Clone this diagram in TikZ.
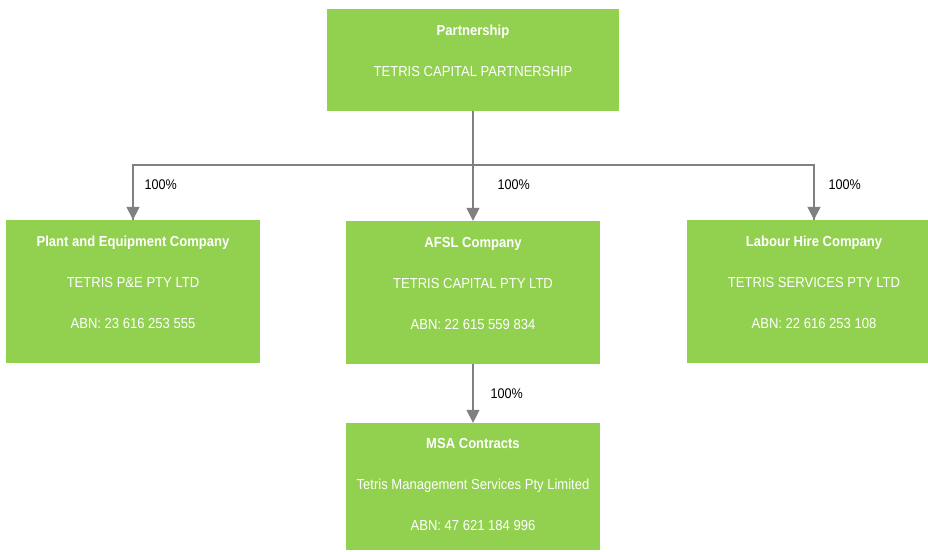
\documentclass[tikz,border=0pt]{standalone}
\usepackage{fontspec}
\setmainfont{Liberation Sans}[FakeStretch=0.9]
\usetikzlibrary{arrows.meta}

\definecolor{boxgreen}{HTML}{92D050}
\definecolor{linegray}{HTML}{808080}

\tikzset{
  entity/.style={fill=boxgreen, draw=none, minimum width=254pt, minimum height=143pt, inner sep=0pt},
  title/.style={text=white, font=\fontsize{14.5}{16}\selectfont\bfseries, anchor=base},
  info/.style={text=white, font=\fontsize{14.5}{16}\selectfont, anchor=base},
  share/.style={font=\fontsize{14}{16}\selectfont, anchor=base west},
  own/.style={draw=linegray, line width=1.6pt, -{Triangle[length=13pt, width=13pt]}},
}

\begin{document}
\begin{tikzpicture}[x=1pt, y=-1pt]
        \clip (0,0) rectangle (928,551);
        \fill[white] (0,0) rectangle (928,551);
        % boxes
        \node[entity, minimum width=292pt, minimum height=102pt] (part) at (473,60) {};
        \node[entity] (plant) at (133,291.5) {};
        \node[entity] (afsl) at (473,292.5) {};
        \node[entity] (labour) at (814,291.5) {};
        \node[entity, minimum height=127pt] (msa) at (473,486.5) {};
        % texts
        \node[title] (part-t) at (473,35.2) {Partnership};
        \node[info] (part-n) at (473,76.2) {TETRIS CAPITAL PARTNERSHIP};
        \node[title] (plant-t) at (133,246.2) {Plant and Equipment Company};
        \node[info] (plant-n) at (133,287.2) {TETRIS P\&E PTY LTD};
        \node[info] (plant-a) at (133,328.2) {ABN: 23 616 253 555};
        \node[title] (afsl-t) at (473,247.2) {AFSL Company};
        \node[info] (afsl-n) at (473,288.2) {TETRIS CAPITAL PTY LTD};
        \node[info] (afsl-a) at (473,329.2) {ABN: 22 615 559 834};
        \node[title] (labour-t) at (814,246.2) {Labour Hire Company};
        \node[info] (labour-n) at (814,287.2) {TETRIS SERVICES PTY LTD};
        \node[info] (labour-a) at (814,328.2) {ABN: 22 616 253 108};
        \node[title] (msa-t) at (473,448.2) {MSA Contracts};
        \node[info] (msa-n) at (473,489.2) {Tetris Management Services Pty Limited};
        \node[info] (msa-a) at (473,530.2) {ABN: 47 621 184 996};
        % connectors
        \coordinate (hub) at (473,165);
        \draw[draw=linegray, line width=1.6pt] (part.south) -- (hub);
        \draw[draw=linegray, line width=1.2pt] (hub) -| (plant.north);
        \draw[draw=linegray, line width=1.2pt] (hub) -| (labour.north);
        \draw[own] (plant.north |- hub) -- (plant.north);
        \draw[own] (hub) -- (afsl.north);
        \draw[own] (labour.north |- hub) -- (labour.north);
        \draw[own] (afsl.south) -- (msa.north);
        % shares
        \node[share] (s-plant) at (141,189) {100\%};
        \node[share] (s-afsl) at (494,189) {100\%};
        \node[share] (s-labour) at (825,189) {100\%};
        \node[share] (s-msa) at (487,398) {100\%};
      \end{tikzpicture}
\end{document}
